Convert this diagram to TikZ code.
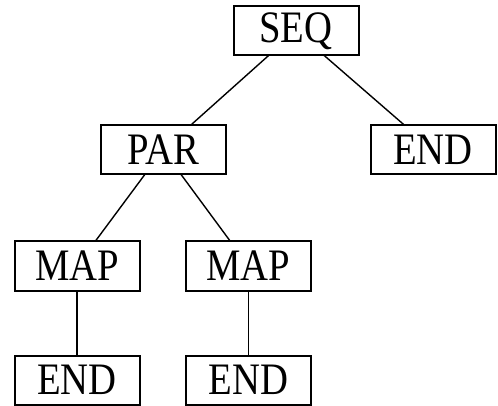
\documentclass[tikz,border=0pt]{standalone}
\usepackage{fontspec}
\newfontfamily\boxfont{Liberation Serif}[FakeStretch=0.86]
\usepackage{tikz}
\usetikzlibrary{positioning}

\begin{document}
\begin{tikzpicture}[
    x=1pt, y=1pt,
    node distance=67pt and 8pt,
    opbox/.style={rectangle, draw=black, line width=2pt, fill=white, minimum width=125pt, minimum height=49pt, inner sep=0pt, outer sep=0pt, align=center, font=\boxfont\fontsize{45}{47}\selectfont},
    edge/.style={line width=1.4pt, color=black}
]
\useasboundingbox (0,0) rectangle (498,-406);

% Root
\node[opbox] (seq) at (296,-31) {SEQ};

% Second level
\node[opbox, below left=70pt and 8pt of seq] (par) {PAR};
\node[opbox, below right=70pt and 12pt of seq] (endr) {END};

% Third level
\node[opbox, below=67pt of par, xshift=-86pt] (mapl) {MAP};
\node[opbox, below=67pt of par, xshift=85.5pt] (mapr) {MAP};

% Leaves
\node[opbox, below=65pt of mapl] (endl) {END};
\node[opbox, below=65pt of mapr] (endm) {END};

% Edges
\draw[edge] (seq) -- (par);
\draw[edge] (seq) -- (endr);
\draw[edge] (par) -- (mapl);
\draw[edge] (par) -- (mapr);
\draw[edge] (mapl) -- (endl);
\draw[edge] (mapr) -- (endm);

\end{tikzpicture}
\end{document}
